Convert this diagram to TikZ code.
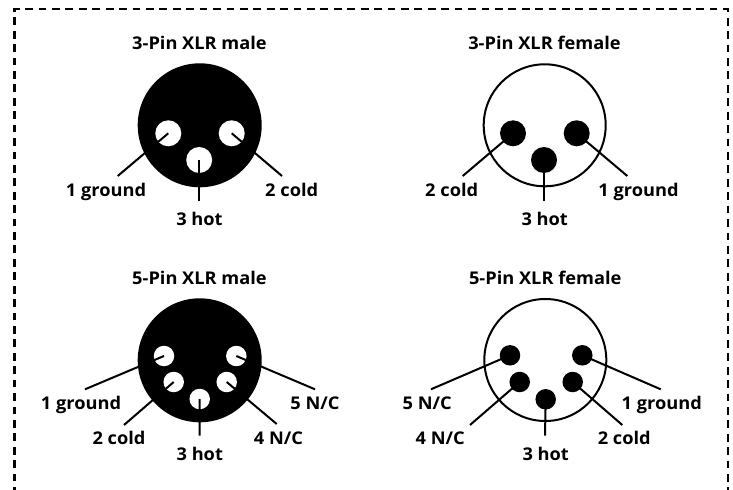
\documentclass[tikz,border=0pt]{standalone}
\usepackage{fontspec}
\setmainfont{Open Sans}[BoldFeatures={FakeStretch=1.04}]
\begin{document}
\begin{tikzpicture}[x=1bp,y=-1bp,
  wire/.style={line width=2bp,black,line cap=butt},
  frameline/.style={line width=2.3bp,black,dash pattern=on 7.8bp off 5.62bp,dash phase=4.82bp},
  shellm/.style={circle,fill=black,draw=none,minimum size=124bp,inner sep=0pt},
  shellf/.style={circle,fill=white,draw=black,line width=2bp,minimum size=122bp,inner sep=0pt},
  pinwb/.style={circle,fill=white,draw=none,minimum size=26bp,inner sep=0pt},
  pinbb/.style={circle,fill=black,draw=none,minimum size=26bp,inner sep=0pt},
  pinws/.style={circle,fill=white,draw=none,minimum size=20.5bp,inner sep=0pt},
  pinbs/.style={circle,fill=black,draw=none,minimum size=20.5bp,inner sep=0pt},
  lab/.style={anchor=base,inner sep=0pt,font=\fontsize{17.6}{20}\selectfont\bfseries},
]
\useasboundingbox (0,0) rectangle (733,490);
\fill[white] (0,0) rectangle (733,490);
% frame
\coordinate (fa) at (14.5,490);
\coordinate (fb) at (14.5,9);
\coordinate (fc) at (727.7,9);
\coordinate (fd) at (727.7,490);
\draw[frameline] (fa) -- (fb) -- (fc) -- (fd);

% 3-pin male
\node[lab] (t1) at (199.5,50) {3-Pin XLR male};
\node[shellm] (s1) at (199.7,125.3) {};
\node[pinwb] (a1) at (168.3,133.3) {};
\node[pinwb] (a2) at (231.7,133.3) {};
\node[pinwb] (a3) at (199.2,160) {};
\coordinate (ae1) at (117.7,176);
\coordinate (ae2) at (282,176);
\coordinate (ae3) at (199.2,201.3);
\draw[wire] (a1.center) -- (ae1);
\draw[wire] (a2.center) -- (ae2);
\draw[wire] (a3.center) -- (ae3);
\node[lab] (al1) at (106,196.7) {1 ground};
\node[lab] (al2) at (291.7,196.7) {2 cold};
\node[lab] (al3) at (199.5,226) {3 hot};

% 3-pin female
\node[lab] (t2) at (544.5,50) {3-Pin XLR female};
\node[shellf] (s2) at (544.7,125.3) {};
\node[pinbb] (b1) at (576.7,133.3) {};
\node[pinbb] (b2) at (513,133.3) {};
\node[pinbb] (b3) at (544,160) {};
\coordinate (be1) at (627.3,176);
\coordinate (be2) at (462.7,176);
\coordinate (be3) at (544,201.3);
\draw[wire] (b1.center) -- (be1);
\draw[wire] (b2.center) -- (be2);
\draw[wire] (b3.center) -- (be3);
\node[lab] (bl1) at (638.5,196.7) {1 ground};
\node[lab] (bl2) at (451.7,196.7) {2 cold};
\node[lab] (bl3) at (544.7,226) {3 hot};

% 5-pin male
\node[lab] (t3) at (199.5,285) {5-Pin XLR male};
\node[shellm] (s3) at (199.7,360.3) {};
\node[pinws] (c1) at (164,356) {};
\node[pinws] (c2) at (173.7,382) {};
\node[pinws] (c3) at (199.7,399) {};
\node[pinws] (c4) at (226.7,382) {};
\node[pinws] (c5) at (236.3,356) {};
\coordinate (ce1) at (85,389.3);
\coordinate (ce2) at (124,425);
\coordinate (ce3) at (199.5,435.7);
\coordinate (ce4) at (276.7,424);
\coordinate (ce5) at (315,389.3);
\draw[wire] (c1.center) -- (ce1);
\draw[wire] (c2.center) -- (ce2);
\draw[wire] (c3.center) -- (ce3);
\draw[wire] (c4.center) -- (ce4);
\draw[wire] (c5.center) -- (ce5);
\node[lab] (cl1) at (81,409) {1 ground};
\node[lab] (cl2) at (119,444) {2 cold};
\node[lab] (cl3) at (199.8,460) {3 hot};
\node[lab] (cl4) at (278.5,444) {4 N/C};
\node[lab] (cl5) at (315,409) {5 N/C};

% 5-pin female
\node[lab] (t4) at (545.2,285) {5-Pin XLR female};
\node[shellf] (s4) at (545.3,360) {};
\node[pinbs] (d1) at (582.3,355.3) {};
\node[pinbs] (d2) at (572.7,382) {};
\node[pinbs] (d3) at (545.7,399.3) {};
\node[pinbs] (d4) at (519.7,382) {};
\node[pinbs] (d5) at (510,355.3) {};
\coordinate (de1) at (660.7,389.3);
\coordinate (de2) at (622.3,425);
\coordinate (de3) at (545,435.7);
\coordinate (de4) at (470,425);
\coordinate (de5) at (431,389.3);
\draw[wire] (d1.center) -- (de1);
\draw[wire] (d2.center) -- (de2);
\draw[wire] (d3.center) -- (de3);
\draw[wire] (d4.center) -- (de4);
\draw[wire] (d5.center) -- (de5);
\node[lab] (dl1) at (661.8,409) {1 ground};
\node[lab] (dl2) at (624.2,444) {2 cold};
\node[lab] (dl3) at (545.7,460) {3 hot};
\node[lab] (dl4) at (440.2,444) {4 N/C};
\node[lab] (dl5) at (427.2,409) {5 N/C};
\end{tikzpicture}
\end{document}
